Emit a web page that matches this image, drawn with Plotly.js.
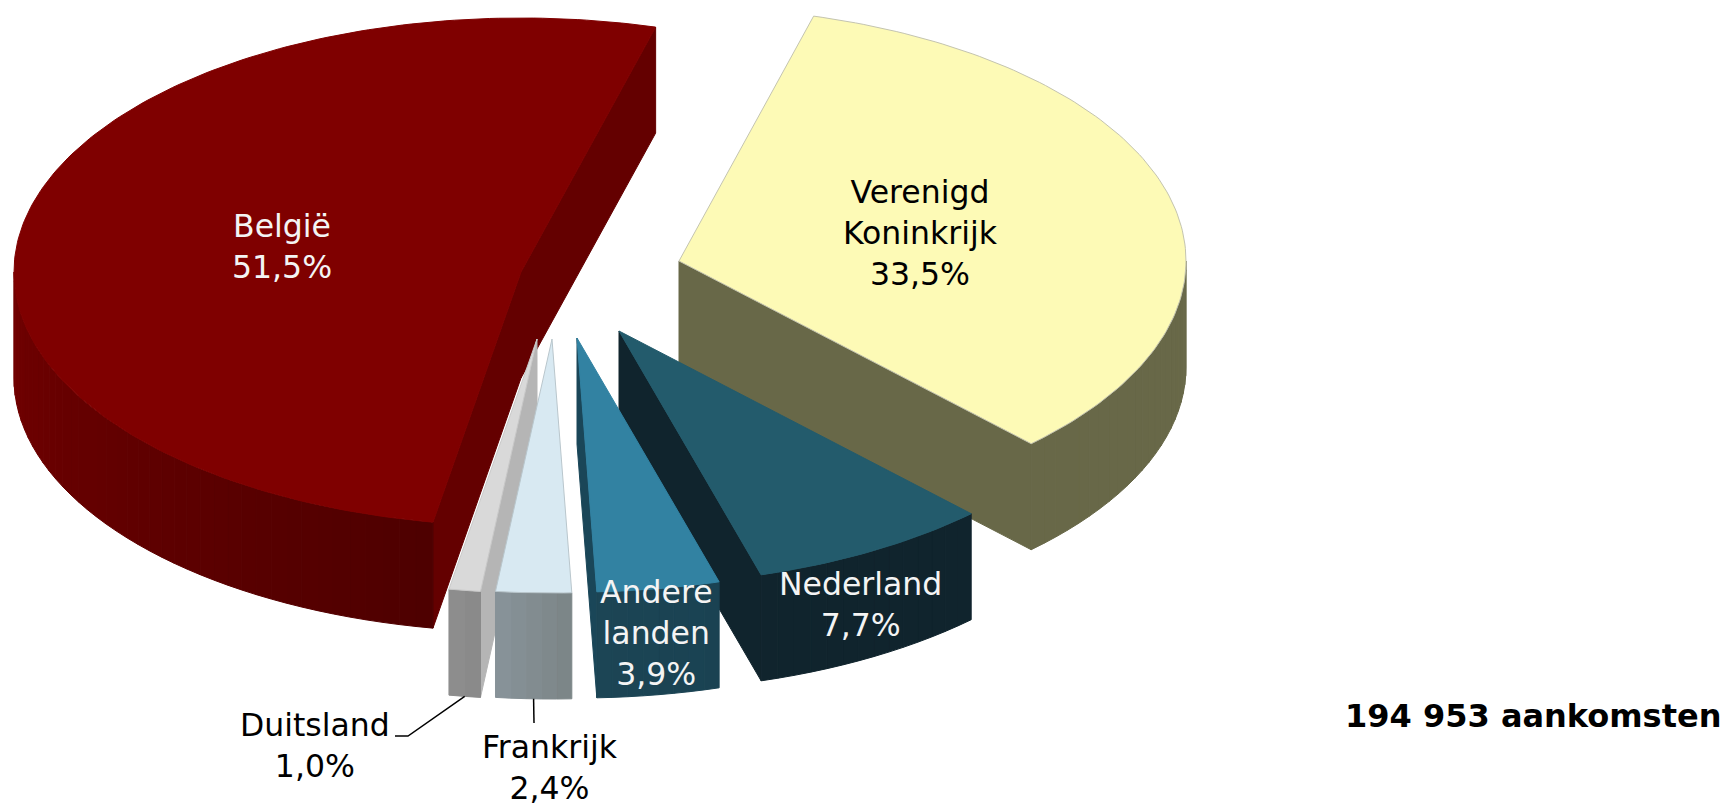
<!DOCTYPE html>
<html>
<head>
<meta charset="utf-8">
<script src="https://cdn.plot.ly/plotly-3.0.1.min.js"></script>
<style>html,body{margin:0;padding:0;background:#fff}#chart{width:1728px;height:805px}</style>
</head>
<body>
<div id="chart"></div>
<script>
// Data, clockwise from the first slice
const categories = ["Verenigd<br>Koninkrijk", "Nederland", "Andere<br>landen", "Frankrijk", "Duitsland", "België"];
const shares = [33.5, 7.7, 3.9, 2.4, 1.0, 51.5];
const totalNote = "194 953 aankomsten";

// Styling
const topColors = ["#fdfab6", "#235b6c", "#3282a2", "#d8e9f2", "#d9d9d9", "#7f0000"];
const edgeColors = ["#c4c4b0", "#235b6c", "#3282a2", "#b9c6cc", "#c8c8c8", "#7f0000"];
const radialWallColors = ["#686848", "#10242d", "#1a4658", "#7f898a", "#b5b5b5", "#640000"];
const wallLeft = ["#686848", "#10242d", "#1c4555", "#88949a", "#8f8f8f", "#720000"];
const wallRight = ["#686848", "#10242d", "#1a4252", "#7b8486", "#888888", "#4e0000"];
const labelColors = ["#000000", "#f4f4f4", "#f4f4f4", "#000000", "#000000", "#f4f4f4"];

// Layout of the exploded 3D pie (axis units)
const startAngle = 15.4, radiusX = 507, radiusY = 254, depth = 106;
const apexX = [679, 619, 577, 552, 537, 521];
const apexY = [261, 331, 338, 339, 339, 272];
const labelX = [920, 860, 656, 550, 315, 282];
const labelY = [233, 604, 633, 767, 745, 246];
const drawOrder = [5, 0, 1, 2, 4, 3];

const rad = d => d * Math.PI / 180;
const hex = c => [1, 3, 5].map(i => parseInt(c.substr(i, 2), 16));
const mix = (a, b, t) => {
  const A = hex(a), B = hex(b);
  return "rgb(" + A.map((v, i) => Math.round(v + (B[i] - v) * t)).join(",") + ")";
};
const total = shares.reduce((a, b) => a + b, 0);
const spans = [];
let running = startAngle;
shares.forEach(s => { const d = s / total * 360; spans.push([running, running + d]); running += d; });

const px = (i, a) => apexX[i] + radiusX * Math.sin(rad(a));
const py = (i, a) => apexY[i] - radiusY * Math.cos(rad(a));

const traces = [];
function poly(xs, ys, color, lineColor, w) {
  traces.push({
    type: "scatter", mode: "lines", x: xs.concat(xs[0]), y: ys.concat(ys[0]),
    fill: "toself", fillcolor: color, line: { color: lineColor || color, width: w === undefined ? 1 : w },
    hoverinfo: "skip", showlegend: false
  });
}
function radialWall(i, a) {
  poly([apexX[i], apexX[i], px(i, a), px(i, a)],
       [apexY[i], apexY[i] + depth, py(i, a) + depth, py(i, a)], radialWallColors[i]);
}
drawOrder.forEach(i => {
  const a0 = spans[i][0], a1 = spans[i][1];
  if (Math.sin(rad(a0)) < 0) radialWall(i, a0);
  if (Math.sin(rad(a1)) > 0) radialWall(i, a1);
  // outer wall in narrow strips for the shading
  const from = Math.max(a0, 90), to = Math.min(a1, 270);
  if (to > from) {
    const n = Math.max(1, Math.ceil((to - from) / 2));
    for (let k = 0; k < n; k++) {
      const s = from + (to - from) * k / n, e = from + (to - from) * (k + 1) / n;
      const xs = [], ys = [];
      for (let j = 0; j <= 2; j++) { const a = s + (e - s) * j / 2; xs.push(px(i, a)); ys.push(py(i, a)); }
      for (let j = 2; j >= 0; j--) { const a = s + (e - s) * j / 2; xs.push(px(i, a)); ys.push(py(i, a) + depth); }
      // increasing angle runs leftwards along the front of the pie
      poly(xs, ys, mix(wallRight[i], wallLeft[i], (k + 0.5) / n));
    }
  }
  // top face
  const xs = [apexX[i]], ys = [apexY[i]];
  const m = Math.ceil(a1 - a0);
  for (let j = 0; j <= m; j++) { const a = a0 + (a1 - a0) * j / m; xs.push(px(i, a)); ys.push(py(i, a)); }
  poly(xs, ys, topColors[i], edgeColors[i], 1);
});

// Leader lines
function leader(i, pts) {
  const a = (spans[i][0] + spans[i][1]) / 2;
  traces.push({
    type: "scatter", mode: "lines",
    x: [px(i, a)].concat(pts.map(p => p[0])),
    y: [py(i, a) + depth].concat(pts.map(p => p[1])),
    line: { color: "#000", width: 1.5 }, hoverinfo: "skip", showlegend: false
  });
}
leader(4, [[408, 736], [395, 736]]);
leader(3, [[534, 723]]);

const annotations = categories.map((c, i) => ({
  x: labelX[i], y: labelY[i], xref: "x", yref: "y", showarrow: false,
  xanchor: "center", yanchor: "middle", align: "center",
  text: c + "<br>" + shares[i].toFixed(1).replace(".", ",") + "%",
  font: { family: "DejaVu Sans, Verdana, sans-serif", size: 31.5, color: labelColors[i] }
}));
annotations.push({
  x: 1533, y: 716, xref: "x", yref: "y", showarrow: false, xanchor: "center", yanchor: "middle",
  text: "<b>" + totalNote + "</b>",
  font: { family: "DejaVu Sans, Verdana, sans-serif", size: 32, color: "#000" }
});

Plotly.newPlot("chart", traces, {
  width: 1728, height: 805,
  margin: { l: 0, r: 0, t: 0, b: 0 },
  paper_bgcolor: "#fff", plot_bgcolor: "#fff",
  showlegend: false,
  xaxis: { range: [0, 1728], visible: false },
  yaxis: { range: [805, 0], visible: false },
  annotations: annotations
}, { displayModeBar: false, staticPlot: true });
</script>
</body>
</html>
